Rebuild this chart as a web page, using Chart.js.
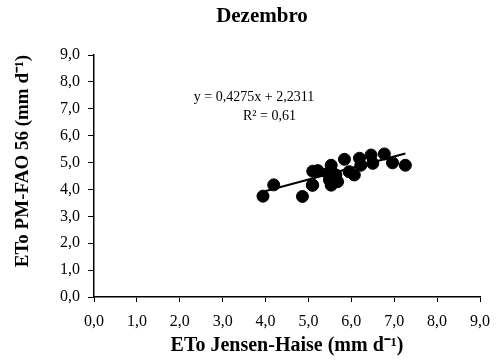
<!DOCTYPE html>
<html>
<head>
<meta charset="utf-8">
<script src="https://cdn.jsdelivr.net/npm/chart.js@4"></script>
<style>
  html, body { margin: 0; padding: 0; background: #fff; }
  #wrap { width: 500px; height: 364px; }
</style>
</head>
<body>
<div id="wrap"><canvas id="c" width="500" height="364"></canvas></div>
<script>
// ETo Jensen-Haise (x) vs ETo PM-FAO 56 (y), December
const jensenHaise = [3.94, 4.19, 4.86, 5.09, 5.10, 5.10, 5.22, 5.45, 5.49, 5.53, 5.53, 5.57, 5.64, 5.68, 5.84, 5.95, 6.07, 6.19, 6.22, 6.46, 6.50, 6.77, 6.96, 7.26];
const pmFao56    = [3.75, 4.17, 3.74, 4.16, 4.68, 4.16, 4.70, 4.60, 4.35, 4.90, 4.16, 4.60, 4.54, 4.29, 5.12, 4.66, 4.54, 5.16, 4.90, 5.28, 4.97, 5.32, 4.99, 4.90];
const slope = 0.4275;
const intercept = 2.2311;
const r2Text = 'R² = 0,61';
const eqText = 'y = 0,4275x + 2,2311';
const axisMin = 0, axisMax = 9, axisStep = 1;

const points = jensenHaise.map((x, i) => ({ x: x, y: pmFao56[i] }));
const xLo = Math.min(...jensenHaise), xHi = Math.max(...jensenHaise);
const trend = [{ x: xLo, y: slope * xLo + intercept }, { x: xHi, y: slope * xHi + intercept }];

const fmt = v => v.toFixed(1).replace('.', ',');

// title and equation text drawn on top
const textPlugin = {
  id: 'texts',
  afterDraw(chart) {
    const ctx = chart.ctx;
    ctx.save();
    ctx.fillStyle = '#000';
    ctx.textBaseline = 'middle';
    ctx.textAlign = 'center';
    ctx.font = 'bold 21px "Liberation Serif"';
    ctx.fillText('Dezembro', 262, 17);
    ctx.font = '14px "Liberation Serif"';
    ctx.fillText(eqText, 254, 97);
    ctx.textAlign = 'left';
    ctx.fillText(r2Text, 243, 116);
    ctx.restore();
  }
};

new Chart(document.getElementById('c'), {
  type: 'scatter',
  data: {
    datasets: [
      {
        label: 'trend',
        type: 'line',
        data: trend,
        borderColor: '#000',
        borderWidth: 2,
        pointRadius: 0,
        fill: false
      },
      {
        label: 'Dezembro',
        data: points,
        backgroundColor: '#000',
        borderColor: '#000',
        pointRadius: 6,
        pointHoverRadius: 6
      }
    ]
  },
  options: {
    responsive: false,
    animation: false,
    devicePixelRatio: 1,
    layout: { padding: { top: 55, right: 19, left: 0, bottom: 0 } },
    plugins: { legend: { display: false }, tooltip: { enabled: false }, title: { display: false } },
    scales: {
      x: {
        type: 'linear', min: axisMin, max: axisMax,
        afterFit: s => { s.height = 67; },
        border: { color: '#000', width: 1.5 },
        grid: { display: true, drawOnChartArea: false, drawTicks: true, tickLength: 5, color: '#000' },
        ticks: { stepSize: axisStep, color: '#000', padding: 10, maxRotation: 0, font: { family: 'Liberation Serif', size: 16 }, callback: v => fmt(v) },
        title: { display: true, text: 'ETo Jensen-Haise (mm d⁻¹)', color: '#000', font: { family: 'Liberation Serif', size: 20, weight: 'bold' }, padding: { top: 2, bottom: 6 } }
      },
      y: {
        type: 'linear', min: axisMin, max: axisMax,
        afterFit: s => { s.width = 94; },
        border: { color: '#000', width: 1.5 },
        grid: { display: true, drawOnChartArea: false, drawTicks: true, tickLength: 6, color: '#000' },
        ticks: { stepSize: axisStep, color: '#000', padding: 8, font: { family: 'Liberation Serif', size: 16 }, callback: v => fmt(v) },
        title: { display: true, align: 'end', text: 'ETo PM-FAO 56 (mm d⁻¹)', color: '#000', font: { family: 'Liberation Serif', size: 19, weight: 'bold' }, padding: { top: 12, bottom: 0 } }
      }
    }
  },
  plugins: [textPlugin]
});
</script>
</body>
</html>
